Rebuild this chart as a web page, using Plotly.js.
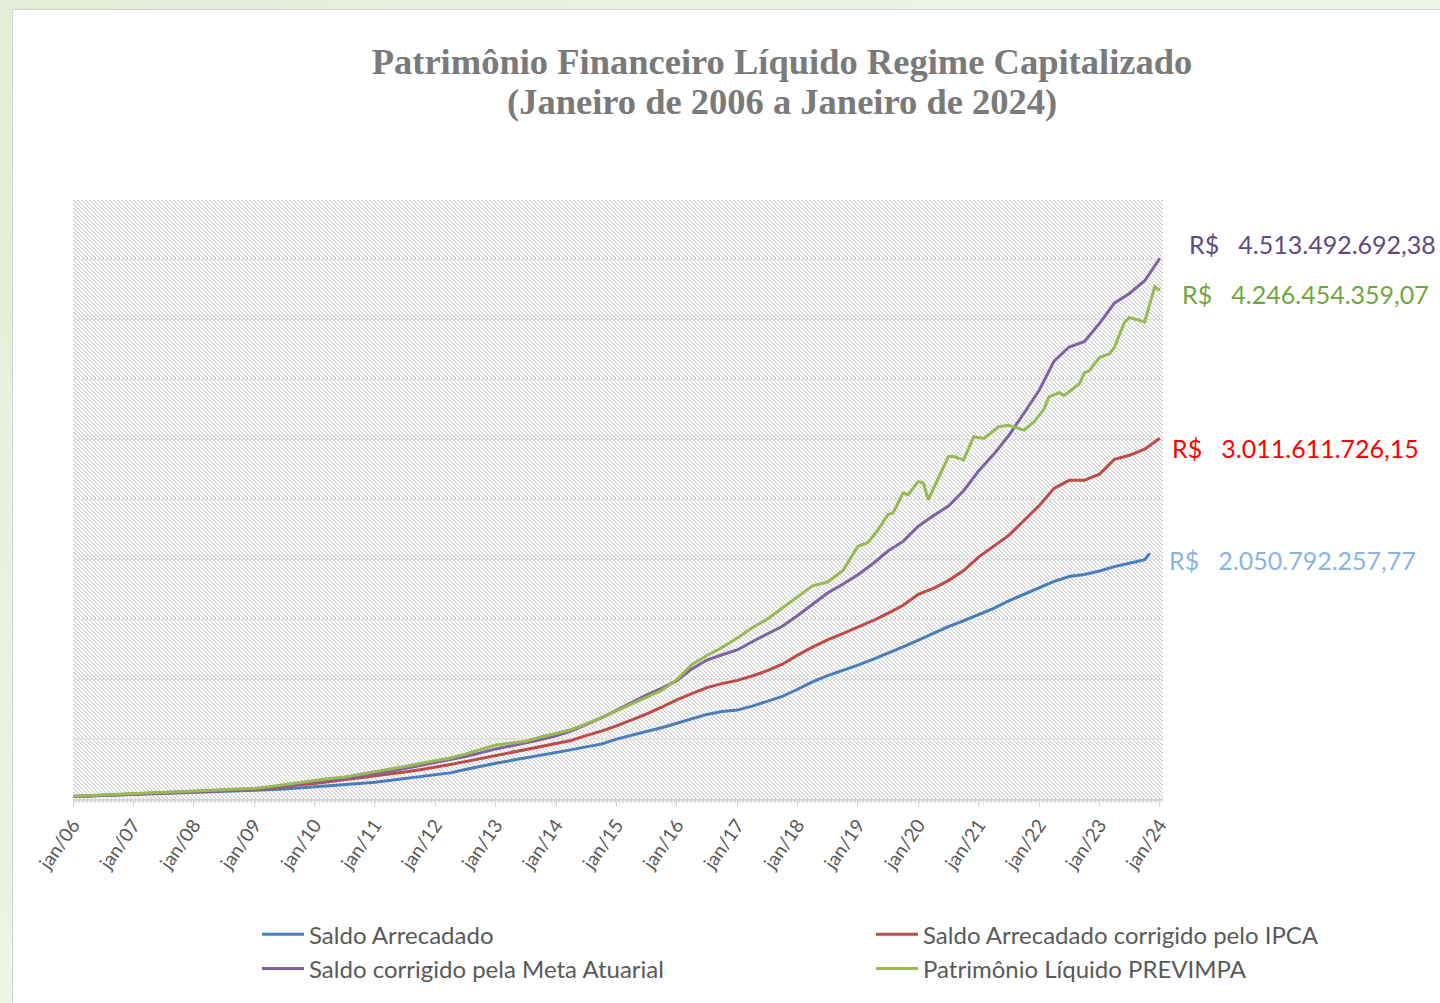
<!DOCTYPE html>
<html><head><meta charset="utf-8">
<script src="https://cdn.plot.ly/plotly-3.0.1.min.js"></script>
<style>
html,body{margin:0;padding:0;width:1440px;height:1003px;overflow:hidden;background:linear-gradient(135deg,#e4edd6 0%,#eef4e7 45%,#e7efdc 100%);}
#frame{position:absolute;left:12px;top:9px;width:1500px;height:1100px;background:#fff;border:1.5px solid #d2d2d2;}
#hatch{position:absolute;left:73px;top:200px;width:1090px;height:603px;
  background-image:url("data:image/svg+xml;utf8,<svg xmlns='http://www.w3.org/2000/svg' width='4' height='4' shape-rendering='crispEdges'><rect width='4' height='4' fill='%23ffffff'/><rect x='0' y='0' width='1' height='1' fill='%23d0d0d0'/><rect x='1' y='1' width='1' height='1' fill='%23d0d0d0'/><rect x='2' y='2' width='1' height='1' fill='%23d0d0d0'/><rect x='3' y='3' width='1' height='1' fill='%23d0d0d0'/><rect x='1' y='0' width='1' height='1' fill='%23e8e8e8'/><rect x='2' y='1' width='1' height='1' fill='%23e8e8e8'/><rect x='3' y='2' width='1' height='1' fill='%23e8e8e8'/><rect x='0' y='3' width='1' height='1' fill='%23e8e8e8'/></svg>");
  background-repeat:repeat;}
#chart{position:absolute;left:0;top:0;width:1440px;height:1003px;}
</style></head><body>
<div id="frame"></div><div id="hatch"></div><div id="chart"></div>
<script>
// Values in millions of R$
const quarterDates = [
 '2006-01','2006-04','2006-07','2006-10','2007-01','2007-04','2007-07','2007-10',
 '2008-01','2008-04','2008-07','2008-10','2009-01','2009-04','2009-07','2009-10',
 '2010-01','2010-04','2010-07','2010-10','2011-01','2011-04','2011-07','2011-10',
 '2012-01','2012-04','2012-07','2012-10','2013-01','2013-04','2013-07','2013-10',
 '2014-01','2014-04','2014-07','2014-10','2015-01','2015-04','2015-07','2015-10',
 '2016-01','2016-04','2016-07','2016-10','2017-01','2017-04','2017-07','2017-10',
 '2018-01','2018-04','2018-07','2018-10','2019-01','2019-04','2019-07','2019-10',
 '2020-01','2020-04','2020-07','2020-10','2021-01','2021-04','2021-07','2021-10',
 '2022-01','2022-04','2022-07','2022-10','2023-01','2023-04','2023-07','2023-10'
];
const saldoArrecadado = [
 20,24,28,32, 37,41,45,50, 54,58,62,66, 70,77,84,92,
 100,110,120,130, 140,155,168,185, 201,218,246,274, 298,321,342,363,
 384,410,435,458, 500,535,564,595, 631,668,706,731, 742,775,815,856,
 916,978,1030,1072, 1117,1165,1216,1270, 1327,1385,1439,1488, 1538,1592,1654,1708,
 1762,1816,1857,1874, 1903,1940,1968,1998
];
const saldoArrecadadoFinalDate = '2023-11';
const saldoArrecadadoFinal = 2050.792257;

const saldoIPCA = [
 21,26,31,36, 41,45,49,53, 58,63,68,73, 80,90,101,118,
 130,145,160,175, 190,207,225,245, 265,288,312,338, 363,389,413,437,
 462,488,529,566, 610,660,708,766, 828,879,930,963, 990,1027,1071,1125,
 1201,1267,1328,1380, 1432,1488,1550,1617, 1708,1759,1823,1907, 2021,2110,2200,2325,
 2449,2593,2660,2660, 2712,2835,2869,2920
];
const saldoIPCAFinal = 3011.611726;

const saldoMeta = [
 21,26,31,36, 42,47,52,57, 62,68,74,80, 86,97,113,132,
 148,160,172,191, 211,232,254,279, 304,329,355,385, 418,443,468,496,
 528,566,621,677, 740,806,868,924, 988,1086,1160,1204, 1244,1313,1380,1442,
 1532,1625,1719,1792, 1872,1964,2070,2150, 2277,2364,2445,2573, 2741,2877,3034,3220,
 3412,3655,3773,3817, 3970,4140,4220,4326
];
const saldoMetaFinal = 4513.492692;
const finalDate = '2024-01';

const patrimonioEarly = [
 22,27,32,38, 44,49,54,59, 65,71,77,84, 87,102,120,141,
 155,172,184,205, 226,250,271,296, 318,342,375,410, 450,466,482,518,
 550,578,628,677, 735,790,848,906, 996,1122,1198,1264, 1343,1429,1501,1594,
 1689,1780,1811,1906
];
const patrimonioLateDates = [
 '2019-01','2019-03','2019-05','2019-07','2019-08','2019-10','2019-11','2020-01','2020-02','2020-03',
 '2020-07','2020-08','2020-10','2020-12','2021-02','2021-05','2021-07','2021-09','2021-10','2021-12',
 '2022-02','2022-03','2022-05','2022-06','2022-09','2022-10','2022-11','2023-01','2023-03','2023-04',
 '2023-06','2023-07','2023-10','2023-12','2024-01'
];
const patrimonioLate = [
 2110,2139,2245,2374,2388,2554,2540,2651,2637,2498,
 2858,2858,2830,3024,3010,3107,3120,3093,3079,3148,
 3259,3356,3391,3369,3466,3557,3576,3687,3715,3770,
 3978,4019,3983,4276,4246.454359
];

const seriesNames = ['Saldo Arrecadado','Saldo Arrecadado corrigido pelo IPCA','Saldo corrigido pela Meta Atuarial','Patrimônio Líquido PREVIMPA'];
const tickDates = ['2006-01-01','2007-01-01','2008-01-01','2009-01-01','2010-01-01','2011-01-01','2012-01-01','2013-01-01','2014-01-01','2015-01-01','2016-01-01','2017-01-01','2018-01-01','2019-01-01','2020-01-01','2021-01-01','2022-01-01','2023-01-01','2024-01-01'];
const tickLabels = ['jan/06','jan/07','jan/08','jan/09','jan/10','jan/11','jan/12','jan/13','jan/14','jan/15','jan/16','jan/17','jan/18','jan/19','jan/20','jan/21','jan/22','jan/23','jan/24'];
const endLabels = ['R$\u00a0\u00a0\u00a04.513.492.692,38','R$\u00a0\u00a0\u00a04.246.454.359,07','R$\u00a0\u00a0\u00a03.011.611.726,15','R$\u00a0\u00a0\u00a02.050.792.257,77'];
const titleLine1 = 'Patrimônio Financeiro Líquido Regime Capitalizado';
const titleLine2 = '(Janeiro de 2006 a Janeiro de 2024)';

const colors = {blue:'#4a7ebb', red:'#be4b48', purple:'#7f62a1', green:'#98b954'};
const FONT = 'Lato, "Open Sans", sans-serif';
const TFONT = {family:'"Liberation Serif", serif', size:36.5, color:'#7a7a7a', weight:'bold'};

const traces = [
 {x: quarterDates.concat([saldoArrecadadoFinalDate]), y: saldoArrecadado.concat([saldoArrecadadoFinal]), name: seriesNames[0], legend:'legend', line:{color:colors.blue,width:3}},
 {x: quarterDates.concat([finalDate]), y: saldoIPCA.concat([saldoIPCAFinal]), name: seriesNames[1], legend:'legend2', line:{color:colors.red,width:3}},
 {x: quarterDates.concat([finalDate]), y: saldoMeta.concat([saldoMetaFinal]), name: seriesNames[2], legend:'legend', line:{color:colors.purple,width:3}},
 {x: quarterDates.slice(0, patrimonioEarly.length).concat(patrimonioLateDates), y: patrimonioEarly.concat(patrimonioLate), name: seriesNames[3], legend:'legend2', line:{color:colors.green,width:3}}
].map(t => Object.assign({type:'scatter', mode:'lines'}, t));

const W = 1090, H = 603, L = 73, T = 200;
const px = v => (v - L) / W;
const py = v => (T + H - v) / H;
const ann = (txt, x, y, color) => ({text: txt, xref:'paper', yref:'y', x: x, y: y, xanchor:'left', yanchor:'middle', showarrow:false, font:{family:FONT, size:25, color: color}});

const legendBase = {xanchor:'left', yanchor:'top', orientation:'v', itemwidth:42,
    bgcolor:'rgba(0,0,0,0)', font:{family:FONT, size:24, color:'#595959'}};

const layout = {
  width:1440, height:1003,
  margin:{l:L, r:1440-L-W, t:T, b:1003-T-H},
  paper_bgcolor:'rgba(0,0,0,0)', plot_bgcolor:'rgba(0,0,0,0)',
  showlegend:true,
  title:{text:titleLine1, xref:'paper', x:px(782), xanchor:'center', yref:'container', y:1-61/1003, yanchor:'middle', font:TFONT},
  xaxis:{type:'date', range:['2006-01-01','2024-01-20'], tickvals:tickDates, ticktext:tickLabels, tickangle:-55,
    ticks:'outside', ticklen:6, tickcolor:'#d4d4d4', showline:true, linecolor:'#d4d4d4', linewidth:1.5,
    showgrid:false, zeroline:false, tickfont:{family:FONT, size:19, color:'#595959'}},
  yaxis:{range:[0,5000], dtick:500, showticklabels:false, ticks:'', showgrid:true, gridcolor:'#e2e2e2', gridwidth:1.2, zeroline:false, showline:false},
  legend:Object.assign({}, legendBase, {x:px(257), y:py(917)}),
  legend2:Object.assign({}, legendBase, {x:px(871), y:py(917)}),
  annotations:[
    {text:titleLine2, xref:'paper', yref:'paper', x:px(782), y:py(101), xanchor:'center', yanchor:'middle', showarrow:false, font:TFONT},
    ann(endLabels[0], px(1187), 4635, '#5f4a82'),
    ann(endLabels[1], px(1180), 4212, '#6fa73e'),
    ann(endLabels[2], px(1170), 2927, '#ff0000'),
    ann(endLabels[3], px(1167), 1998, '#8db3e2')
  ],
  hovermode:false
};
Plotly.newPlot('chart', traces, layout, {staticPlot:true, displayModeBar:false});
</script>
</body></html>
